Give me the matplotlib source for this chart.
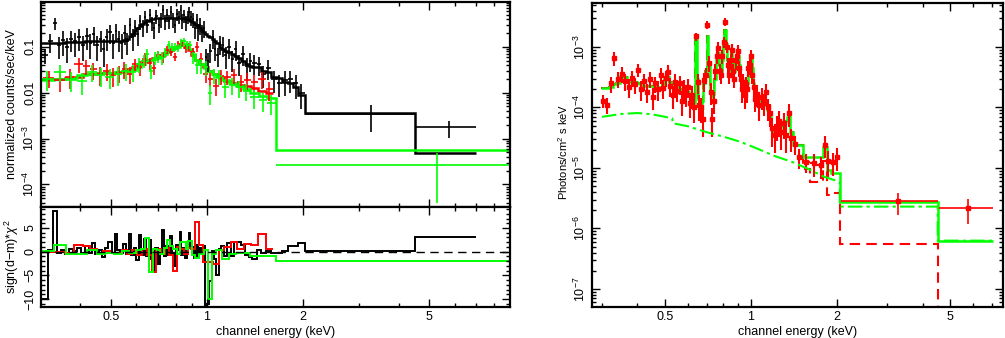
import numpy as np
import matplotlib
matplotlib.use('Agg')
import matplotlib.pyplot as plt
from matplotlib import ticker

plt.rcParams['font.family'] = ['Liberation Sans', 'DejaVu Sans']
plt.rcParams['mathtext.fontset'] = 'custom'
plt.rcParams['mathtext.rm'] = 'Liberation Sans'
plt.rcParams['mathtext.it'] = 'Liberation Sans:italic'
plt.rcParams['mathtext.bf'] = 'Liberation Sans:bold'
plt.rcParams['axes.unicode_minus'] = True

# ---------------- Left panel data (counts spectrum) ----------------
# black dataset: narrow bins
B_E = [0.310,0.322,0.333,0.343,0.353,0.364,0.375,0.386,0.397,0.408,
       0.419,0.430,0.441,0.452,0.463,0.474,0.485,0.496,0.507,0.518,
       0.529,0.540,0.551,0.562,0.573,0.584,0.595,0.606,0.617,0.628,
       0.639,0.650,0.661,0.672,0.683,0.694,0.705,0.716,0.727,0.738,
       0.749,0.760,0.771,0.782,0.793,0.804,0.815,0.826,0.837,0.848,
       0.859,0.870,0.881,0.892,0.904,0.916,0.928,0.940,0.953,0.966,
       0.980,0.995,1.010,1.026,1.043,1.061,1.080,1.100,1.122,1.146,
       1.172,1.200,1.230,1.262,1.296,1.332,1.370,1.410,1.455,1.505,
       1.560,1.620,1.690,1.760,1.830,1.900,1.975]
B_D = [0.066,0.13,0.33,0.11,0.14,0.10,0.15,0.13,0.16,0.11,
       0.17,0.12,0.19,0.11,0.15,0.09,0.16,0.21,0.12,0.22,
       0.15,0.12,0.20,0.13,0.30,0.16,0.27,0.19,0.36,0.27,
       0.45,0.30,0.50,0.33,0.25,0.47,0.30,0.40,0.62,0.36,
       0.50,0.37,0.58,0.40,0.30,0.52,0.45,0.62,0.38,0.48,
       0.34,0.45,0.56,0.44,0.40,0.25,0.38,0.22,0.30,0.21,
       0.26,0.06,0.05,0.08,0.16,0.09,0.065,0.12,0.11,0.065,
       0.10,0.055,0.09,0.045,0.07,0.038,0.05,0.045,0.042,0.025,
       0.035,0.02,0.016,0.019,0.02,0.016,0.0098]
B_M = [0.12,0.12,0.12,0.12,0.12,0.125,0.125,0.125,0.125,0.125,
       0.13,0.13,0.13,0.13,0.13,0.13,0.13,0.13,0.13,0.13,
       0.13,0.135,0.14,0.15,0.17,0.19,0.22,0.25,0.29,0.32,
       0.34,0.36,0.38,0.40,0.41,0.42,0.42,0.42,0.42,0.43,
       0.43,0.43,0.43,0.43,0.43,0.43,0.43,0.43,0.43,0.42,
       0.41,0.40,0.38,0.36,0.34,0.32,0.30,0.27,0.25,0.23,
       0.21,0.19,0.17,0.16,0.15,0.13,0.12,0.10,0.09,0.08,
       0.075,0.07,0.063,0.058,0.050,0.043,0.038,0.037,0.036,0.030,
       0.028,0.022,0.021,0.017,0.016,0.013,0.0089]
B_REL = [0.35,0.45,0.3,0.5,0.55,0.55,0.5,0.55,0.5,0.55,
         0.5,0.55,0.45,0.55,0.5,0.6,0.5,0.45,0.55,0.4,
         0.5,0.55,0.45,0.5,0.4,0.5,0.4,0.45,0.35,0.4,
         0.3,0.35,0.3,0.35,0.4,0.35,0.35,0.35,0.3,0.35,
         0.3,0.35,0.3,0.35,0.35,0.3,0.3,0.3,0.35,0.3,
         0.35,0.3,0.3,0.35,0.35,0.4,0.35,0.4,0.4,0.4,
         0.4,0.45,0.45,0.45,0.45,0.45,0.45,0.45,0.45,0.5,
         0.45,0.5,0.45,0.5,0.45,0.5,0.45,0.45,0.45,0.5,
         0.45,0.5,0.5,0.55,0.5,0.55,0.55]
B_X = [-10,0.3,8.5,-0.2,0.3,-0.5,0.5,0.1,0.8,-0.3,
       1.2,-0.2,1.8,-0.5,0.4,-1.2,0.8,2.0,-0.2,3.8,
       0.4,-0.3,1.6,-0.5,3.7,-0.6,0.8,-1.8,3.6,-0.8,
       2.6,-1.0,2.4,-1.5,-4.2,0.8,-2.5,-0.2,4.5,-0.9,
       1.2,-0.7,3.3,-0.2,-3.0,1.5,0.3,4.2,-0.6,0.8,
       -1.3,1.0,4.0,1.2,0.9,-1.4,1.5,-1.1,0.8,-0.3,
       1.2,-11.5,-11.0,-6.3,0.1,-1.5,-4.9,0.6,1.1,-0.9,
       1.8,-0.9,2.0,2.0,1.5,-0.7,-1.2,-1.5,0.4,-0.3,
       0.1,-0.3,-0.2,0.2,1.3,1.3,1.9]
B_LO, B_HI = 0.300, 2.03
# black dataset: wide bins
B_W_EDGES = [2.03, 4.52, 7.0]
B_W_D = [3.4e-3, 1.75e-3]
B_W_ERR = [2.0e-3, 7.0e-4]
B_W_M = [3.6e-3, 4.8e-4]
B_W_X = [0.05, 3.0]

# red dataset
RL_E = [0.318,0.345,0.370,0.395,0.418,0.440,0.462,0.484,0.506,0.528,
        0.550,0.572,0.594,0.616,0.638,0.660,0.682,0.704,0.726,0.748,
        0.770,0.792,0.814,0.836,0.858,0.880,0.905,0.932,0.960,0.990,
        1.025,1.065,1.110,1.160,1.215,1.275,1.340,1.410,1.490,1.570]
RL_D = [0.021,0.019,0.022,0.042,0.038,0.032,0.025,0.030,0.024,0.027,
        0.033,0.026,0.042,0.036,0.055,0.044,0.035,0.066,0.060,0.085,
        0.078,0.060,0.115,0.122,0.092,0.100,0.075,0.100,0.055,0.025,
        0.020,0.014,0.023,0.022,0.024,0.017,0.019,0.017,0.020,0.012]
RL_M = [0.020,0.020,0.021,0.022,0.025,0.026,0.027,0.027,0.027,0.028,
        0.029,0.032,0.037,0.042,0.048,0.052,0.056,0.060,0.066,0.075,
        0.085,0.095,0.105,0.110,0.100,0.085,0.065,0.052,0.043,0.036,
        0.030,0.025,0.021,0.018,0.016,0.015,0.014,0.0125,0.011,0.010]
RL_REL = [0.4,0.45,0.45,0.35,0.35,0.4,0.45,0.4,0.45,0.4,
          0.4,0.4,0.3,0.35,0.3,0.3,0.3,0.25,0.25,0.2,
          0.2,0.2,0.15,0.15,0.2,0.2,0.25,0.25,0.3,0.35,
          0.35,0.4,0.35,0.35,0.35,0.4,0.4,0.4,0.4,0.45]
RL_X = [0,0,-0.2,1.5,1.2,0.5,-0.3,0.2,-0.3,-0.2,
        0.3,-0.5,0.4,-0.6,0.5,-0.8,-4.2,0.6,-0.5,0.8,
        -0.6,-4.0,0.9,0.5,-0.4,0.7,0.5,6.2,1.5,-2.2,
        -2.2,-2.7,0.4,1.0,2.0,0.5,1.7,1.5,3.8,0.5]
RL_LO, RL_HI = 0.305, 1.61

# green dataset
GL_E = [0.315,0.345,0.375,0.405,0.435,0.465,0.495,0.525,0.555,0.585,
        0.610,0.632,0.650,0.668,0.686,0.704,0.722,0.740,0.758,0.776,
        0.794,0.812,0.830,0.848,0.866,0.884,0.905,0.930,0.960,0.995,
        1.020,1.050,1.090,1.140,1.200,1.260,1.330,1.410,1.500,1.590]
GL_D = [0.020,0.028,0.019,0.018,0.028,0.024,0.022,0.025,0.030,0.028,
        0.042,0.050,0.070,0.030,0.058,0.062,0.058,0.075,0.110,0.100,
        0.100,0.095,0.130,0.135,0.110,0.110,0.060,0.040,0.040,0.036,
        0.010,0.024,0.023,0.013,0.015,0.013,0.011,0.008,0.0068,0.006]
GL_M = [0.019,0.020,0.021,0.024,0.026,0.027,0.027,0.028,0.029,0.031,
        0.036,0.042,0.048,0.052,0.055,0.058,0.062,0.068,0.076,0.085,
        0.092,0.100,0.108,0.112,0.105,0.090,0.068,0.052,0.042,0.034,
        0.030,0.026,0.022,0.019,0.016,0.014,0.012,0.010,0.0085,0.0076]
GL_REL = [0.45,0.4,0.45,0.5,0.4,0.45,0.45,0.45,0.4,0.4,
          0.35,0.3,0.25,0.35,0.3,0.3,0.3,0.25,0.2,0.2,
          0.2,0.2,0.15,0.15,0.2,0.2,0.3,0.35,0.35,0.35,
          0.45,0.35,0.35,0.4,0.4,0.4,0.4,0.45,0.45,0.45]
GL_X = [0.2,1.4,-0.5,-0.5,0.3,-0.5,-0.3,-0.4,0.2,-0.3,
        0.4,0.6,2.8,-4.3,0.5,0.3,-0.5,0.8,2.4,1.3,
        0.6,-0.4,2.0,2.0,0.5,2.2,-0.6,-1.3,-0.5,0.4,
        -10,-0.5,0.3,-1.5,-0.4,-0.3,-0.3,-1.0,-1.0,-1.0]
GL_LO, GL_HI = 0.300, 1.645
G_W_EDGES = [1.645, 8.96]
G_W_D = [2.6e-4]
G_W_ERR = [2.2e-4]
G_W_M = [5.6e-4]
G_W_X = [-1.9]

# ---------------- Right panel data (unfolded spectrum) ----------------
R_E = [0.302,0.312,0.322,0.332,0.342,0.352,0.362,0.372,0.382,0.392,
       0.402,0.412,0.422,0.432,0.442,0.452,0.462,0.472,0.482,0.492,
       0.502,0.512,0.522,0.532,0.542,0.552,0.562,0.572,0.582,0.592,
       0.602,0.612,0.622,0.632,0.641,0.650,0.659,0.668,0.677,0.686,
       0.695,0.704,0.713,0.722,0.731,0.740,0.749,0.758,0.767,0.776,
       0.785,0.794,0.803,0.812,0.821,0.830,0.839,0.848,0.857,0.866,
       0.875,0.884,0.893,0.902,0.911,0.920,0.930,0.940,0.950,0.960,
       0.970,0.980,0.990,1.000,1.010,1.022,1.036,1.052,1.070,1.090,
       1.110,1.130,1.150,1.170,1.190,1.210,1.232,1.255,1.280,1.305,
       1.330,1.355,1.385,1.425,1.480,1.560,1.660,1.760,1.820,1.870,
       1.935,2.005]
R_D = [1.3e-4,1.1e-4,2.5e-4,6.5e-4,3.0e-4,3.6e-4,2.7e-4,2.2e-4,3.1e-4,2.4e-4,
       4.2e-4,2.0e-4,2.7e-4,1.8e-4,3.0e-4,1.5e-4,2.5e-4,2.0e-4,3.5e-4,2.1e-4,
       3.1e-4,3.9e-4,2.3e-4,1.6e-4,2.6e-4,1.9e-4,2.5e-4,1.3e-4,2.1e-4,1.7e-4,
       2.2e-4,1.2e-4,1.6e-4,1.0e-4,1.5e-3,2.6e-4,1.1e-4,1.0e-4,6.5e-5,2.8e-4,
       3.5e-4,2.3e-3,5.5e-4,1.8e-4,6.5e-5,1.3e-4,4.0e-4,7.0e-4,9.5e-4,4.0e-4,
       3.5e-4,7.0e-4,1.2e-3,2.6e-3,1.0e-3,5.0e-4,3.5e-4,6.0e-4,9.0e-4,4.0e-4,
       3.0e-4,6.0e-4,7.0e-4,8.5e-4,4.5e-4,3.0e-4,2.0e-4,2.6e-4,1.6e-4,2.4e-4,
       2.0e-4,4.5e-4,5.0e-4,7.0e-4,3.5e-4,2.2e-4,1.4e-4,1.7e-4,1.1e-4,1.5e-4,
       1.2e-4,1.8e-4,1.0e-4,8.0e-5,4.5e-5,3.5e-5,5.0e-5,6.0e-5,4.0e-5,5.5e-5,
       3.5e-5,8.0e-5,3.1e-5,2.5e-5,1.5e-5,1.25e-5,1.2e-5,1.1e-5,2.4e-5,1.3e-5,
       1.25e-5,1.5e-5]
R_REL = [0.25,0.3,0.3,0.25,0.3,0.3,0.3,0.35,0.3,0.3,
         0.25,0.35,0.3,0.35,0.3,0.4,0.3,0.35,0.3,0.35,
         0.3,0.3,0.35,0.4,0.35,0.35,0.35,0.45,0.35,0.4,
         0.35,0.45,0.4,0.45,0.15,0.35,0.45,0.45,0.5,0.35,
         0.3,0.15,0.3,0.4,0.5,0.4,0.3,0.25,0.25,0.3,
         0.3,0.25,0.2,0.15,0.2,0.3,0.3,0.3,0.25,0.3,
         0.3,0.3,0.25,0.25,0.3,0.35,0.4,0.35,0.4,0.35,
         0.4,0.3,0.3,0.25,0.3,0.35,0.4,0.4,0.45,0.4,
         0.4,0.35,0.4,0.4,0.5,0.5,0.45,0.45,0.5,0.45,
         0.5,0.4,0.4,0.35,0.35,0.35,0.4,0.4,0.4,0.45,
         0.4,0.4]
G_M = [2.1e-4,2.1e-4,2.2e-4,2.45e-4,2.5e-4,3.3e-4,3.2e-4,2.7e-4,2.6e-4,2.6e-4,
       2.5e-4,2.4e-4,2.3e-4,2.3e-4,2.3e-4,2.25e-4,2.2e-4,2.2e-4,2.2e-4,2.4e-4,
       3.0e-4,3.2e-4,2.6e-4,2.2e-4,2.1e-4,2.2e-4,2.0e-4,1.9e-4,1.9e-4,2.0e-4,
       1.8e-4,1.6e-4,1.4e-4,1.2e-4,1.6e-3,3.0e-4,1.4e-4,1.2e-4,1.3e-4,2.5e-4,
       4.0e-4,1.5e-3,5.0e-4,1.8e-4,1.5e-4,1.7e-4,3.0e-4,6.0e-4,8.0e-4,5.0e-4,
       4.0e-4,6.0e-4,1.1e-3,1.9e-3,1.1e-3,6.0e-4,4.0e-4,5.0e-4,8.0e-4,5.5e-4,
       4.0e-4,5.0e-4,6.5e-4,7.0e-4,5.0e-4,3.5e-4,2.6e-4,2.2e-4,2.0e-4,2.1e-4,
       2.5e-4,3.5e-4,5.5e-4,6.0e-4,4.5e-4,2.5e-4,1.8e-4,1.4e-4,1.3e-4,1.2e-4,
       1.5e-4,1.1e-4,9.0e-5,7.0e-5,4.5e-5,3.5e-5,4.5e-5,5.0e-5,5.0e-5,4.5e-5,
       6.0e-5,7.0e-5,4.0e-5,2.4e-5,2.4e-5,1.5e-5,1.5e-5,1.5e-5,2.2e-5,9.3e-6,
       8.3e-6,8.3e-6]
# red model differs from the green one only above ~1.5 keV
R_M_SPLIT = 95
R_M_TAIL = [9.6e-6,5.9e-6,5.9e-6,1.3e-5,3.6e-6,3.6e-6,3.9e-6]
R_LO, R_HI = 0.297, 2.05
R_W_EDGES = [2.05, 4.52, 7.07]
R_W_D = [2.8e-6, 2.15e-6]
R_W_ERR = [1.1e-6, 0.95e-6]
G_W2_M = [2.7e-6, 6.3e-7]
R_W2_M = [5.6e-7, 1e-12]
# green dash-dot component
C_E = [0.300,0.350,0.400,0.450,0.500,0.530,0.531,0.600,0.700,0.800,
       0.920,1.050,1.200,1.400,1.600,1.800,2.050]
C_V = [7.0e-5,7.8e-5,8.1e-5,7.7e-5,7.0e-5,6.6e-5,5.5e-5,4.9e-5,3.9e-5,3.3e-5,
       2.7e-5,2.1e-5,1.6e-5,1.25e-5,9.5e-6,7.2e-6,5.9e-6]
C_W_V = [2.3e-6, 6.3e-7]

RED = '#ff0000'
GREEN = '#00ff00'
BLACK = '#000000'


def edges_from_centers(c, lo, hi):
    c = np.asarray(c, float)
    mids = (c[1:] + c[:-1]) / 2
    return np.concatenate([[lo], mids, [hi]])


W, H = 1005, 338
fig = plt.figure(figsize=(W / 100, H / 100), dpi=100)
ax1 = fig.add_axes([41 / W, 1 - 207 / H, 469 / W, 205 / H])
ax2 = fig.add_axes([41 / W, 1 - 307 / H, 469 / W, 100 / H], sharex=ax1)
ax3 = fig.add_axes([592 / W, 1 - 307 / H, 411 / W, 304 / H])

FS = 9


def style(ax):
    for s in ax.spines.values():
        s.set_linewidth(1.6)
    ax.tick_params(which='both', direction='in', top=True, right=True,
                   width=1.0, labelsize=FS, pad=3)
    ax.tick_params(which='major', length=6)
    ax.tick_params(which='minor', length=3)


def xaxis_setup(ax, lim):
    ax.set_xscale('log')
    ax.set_xlim(*lim)
    ax.xaxis.set_major_locator(ticker.FixedLocator([0.5, 1, 2, 5]))
    ax.xaxis.set_major_formatter(ticker.FuncFormatter(lambda v, p: f'{v:g}'))
    ax.xaxis.set_minor_locator(ticker.FixedLocator([0.3, 0.4, 0.6, 0.7, 0.8, 0.9, 3, 4, 6, 7, 8, 9]))
    ax.xaxis.set_minor_formatter(ticker.NullFormatter())


def logy_fmt(v, p):
    e = int(round(np.log10(v)))
    if e == -1:
        return '0.1'
    if e == -2:
        return '0.01'
    return r'$10^{%d}$' % e


def logy_setup(ax, lim, fmt):
    ax.set_yscale('log')
    ax.set_ylim(*lim)
    ax.yaxis.set_major_locator(ticker.LogLocator(base=10, numticks=20))
    ax.yaxis.set_minor_locator(ticker.LogLocator(base=10, subs=np.arange(2, 10), numticks=20))
    ax.yaxis.set_major_formatter(ticker.FuncFormatter(fmt))
    ax.yaxis.set_minor_formatter(ticker.NullFormatter())


def rotate_ylabels(ax):
    for lab in ax.get_yticklabels():
        lab.set_rotation(90)
        lab.set_va('center')


def set_ylabel(ax, text, xpix, yfrac, fs=FS):
    ax.set_ylabel(text, fontsize=fs)
    ax.yaxis.label.set_va('center')
    ax.yaxis.label.set_ha('center')
    bbox = ax.get_position()
    ax.yaxis.set_label_coords((xpix / W - bbox.x0) / bbox.width, yfrac)


# ---------------- Left top panel ----------------
style(ax1)
xaxis_setup(ax1, (0.301, 8.96))
logy_setup(ax1, (3.22e-5, 0.942), logy_fmt)
plt.setp(ax1.get_xticklabels(), visible=False)

# black
be = edges_from_centers(B_E, B_LO, B_HI)
bE = np.asarray(B_E)
bD = np.asarray(B_D)
ax1.errorbar(bE, bD, xerr=[bE - be[:-1], be[1:] - bE], yerr=bD * np.asarray(B_REL),
             fmt='none', ecolor=BLACK, elinewidth=1.2)
bwe = np.asarray(B_W_EDGES)
bwc = (bwe[:-1] + bwe[1:]) / 2
ax1.errorbar(bwc, B_W_D, xerr=[bwc - bwe[:-1], bwe[1:] - bwc], yerr=B_W_ERR,
             fmt='none', ecolor=BLACK, elinewidth=1.2)
ax1.stairs(list(B_M) + list(B_W_M), np.concatenate([be, bwe[1:]]),
           baseline=None, color=BLACK, lw=1.8)

# red
re_ = edges_from_centers(RL_E, RL_LO, RL_HI)
rE = np.asarray(RL_E)
rD = np.asarray(RL_D)
ax1.errorbar(rE, rD, xerr=[rE - re_[:-1], re_[1:] - rE], yerr=rD * np.asarray(RL_REL),
             fmt='none', ecolor=RED, elinewidth=1.2)
ax1.stairs(RL_M, re_, baseline=None, color=RED, lw=1.8)

# green
ge = edges_from_centers(GL_E, GL_LO, GL_HI)
gE = np.asarray(GL_E)
gD = np.asarray(GL_D)
ax1.errorbar(gE, gD, xerr=[gE - ge[:-1], ge[1:] - gE], yerr=gD * np.asarray(GL_REL),
             fmt='none', ecolor=GREEN, elinewidth=1.2)
gwe = np.asarray(G_W_EDGES)
gwc = (gwe[:-1] + gwe[1:]) / 2
ax1.errorbar(gwc, G_W_D, xerr=[gwc - gwe[:-1], gwe[1:] - gwc], yerr=G_W_ERR,
             fmt='none', ecolor=GREEN, elinewidth=1.2)
ax1.stairs(list(GL_M) + list(G_W_M), np.concatenate([ge, gwe[1:]]),
           baseline=None, color=GREEN, lw=1.8)

set_ylabel(ax1, 'normalized counts/sec/keV', 12, 0.5)
rotate_ylabels(ax1)

# ---------------- Left residual panel ----------------
style(ax2)
ax2.set_ylim(-11.7, 9.45)
ax2.yaxis.set_major_locator(ticker.MultipleLocator(5))
ax2.yaxis.set_minor_locator(ticker.MultipleLocator(1))
ax2.axhline(0, color=BLACK, lw=1.0, ls=(0, (6, 4)))
ax2.stairs(list(B_X) + list(B_W_X), np.concatenate([be, bwe[1:]]),
           baseline=None, color=BLACK, lw=1.4)
ax2.stairs(RL_X, re_, baseline=None, color=RED, lw=1.4)
ax2.stairs(list(GL_X) + list(G_W_X), np.concatenate([ge, gwe[1:]]),
           baseline=None, color=GREEN, lw=1.4)
ax2.set_xlabel('channel energy (keV)', fontsize=FS, labelpad=2)
set_ylabel(ax2, r'sign(d$-$m)*$\chi^2$', 12, 0.5)
rotate_ylabels(ax2)

# ---------------- Right panel ----------------
style(ax3)
xaxis_setup(ax3, (0.277, 7.66))
logy_setup(ax3, (5.04e-8, 5.33e-3), logy_fmt)

rre = edges_from_centers(R_E, R_LO, R_HI)
rrE = np.asarray(R_E)
rrD = np.asarray(R_D)
ax3.errorbar(rrE, rrD, xerr=[rrE - rre[:-1], rre[1:] - rrE], yerr=rrD * np.asarray(R_REL),
             fmt='s', ms=2.2, mfc=RED, mec=RED, ecolor=RED, elinewidth=1.5)
rwe = np.asarray(R_W_EDGES)
rwc = (rwe[:-1] + rwe[1:]) / 2
ax3.errorbar(rwc, R_W_D, xerr=[rwc - rwe[:-1], rwe[1:] - rwc], yerr=R_W_ERR,
             fmt='s', ms=2.2, mfc=RED, mec=RED, ecolor=RED, elinewidth=1.2)
all_edges = np.concatenate([rre, rwe[1:]])
red_model = list(G_M[:R_M_SPLIT]) + list(R_M_TAIL) + list(R_W2_M)
ax3.stairs(red_model, all_edges, baseline=None, color=RED, lw=1.5, ls=(0, (5, 3)))
ax3.stairs(list(G_M) + list(G_W2_M), all_edges, baseline=None, color=GREEN, lw=1.8)
# dash-dot component: smooth part, then step over the two wide bins
dd_x = list(C_E) + [rwe[0], rwe[1], rwe[1], rwe[2]]
dd_y = list(C_V) + [C_W_V[0], C_W_V[0], C_W_V[1], C_W_V[1]]
ax3.plot(dd_x, dd_y, color=GREEN, lw=1.5, ls=(0, (7, 2, 1.5, 2)))

ax3.set_xlabel('channel energy (keV)', fontsize=FS, labelpad=2)
set_ylabel(ax3, r'Photons/cm$^2$ s keV', 563, 0.51, fs=8)
rotate_ylabels(ax3)

fig.savefig('out.png', dpi=100)
